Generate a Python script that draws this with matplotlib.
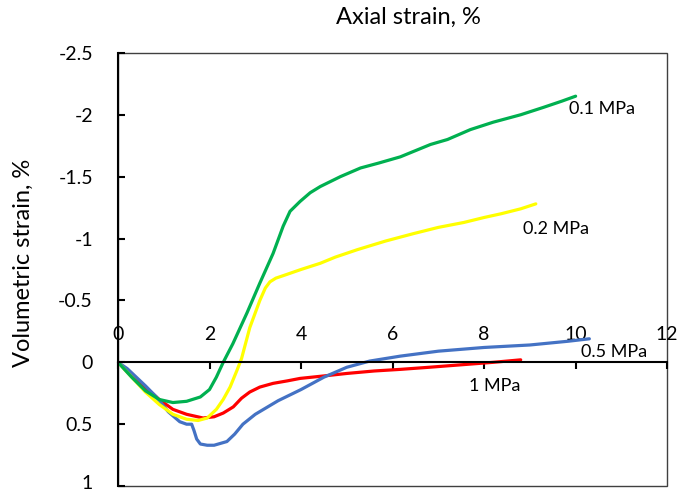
import matplotlib.pyplot as plt
from matplotlib.patches import Rectangle
from matplotlib.transforms import ScaledTranslation

plt.rcParams['font.family'] = ['Lato', 'DejaVu Sans']

# 0.1 MPa
x_01 = [0, 0.3, 0.6, 0.9, 1.2, 1.5, 1.8, 2.0, 2.15, 2.3, 2.51, 2.82, 3.1, 3.39, 3.61, 3.76,
        3.98, 4.2, 4.42, 4.86, 5.3, 5.7, 6.17, 6.5, 6.83, 7.2, 7.7, 8.2, 8.8, 9.3, 9.7, 10.0]
y_01 = [0, 0.12, 0.23, 0.3, 0.325, 0.315, 0.28, 0.22, 0.12, 0.0, -0.15, -0.4, -0.64, -0.88, -1.1, -1.22,
        -1.3, -1.37, -1.42, -1.5, -1.57, -1.61, -1.66, -1.71, -1.76, -1.8, -1.88, -1.94, -2.0, -2.06, -2.11, -2.15]
# 0.2 MPa
x_02 = [0, 0.3, 0.6, 0.9, 1.2, 1.5, 1.75, 1.95, 2.15, 2.3, 2.45, 2.6, 2.7, 2.88, 3.1, 3.22, 3.32, 3.45,
        3.61, 4.0, 4.42, 4.75, 5.23, 5.85, 6.46, 7.0, 7.56, 8.0, 8.37, 8.8, 9.13]
y_02 = [0, 0.12, 0.24, 0.34, 0.42, 0.46, 0.47, 0.45, 0.38, 0.3, 0.2, 0.065, -0.03, -0.28, -0.5, -0.6, -0.65, -0.68,
        -0.7, -0.75, -0.8, -0.85, -0.91, -0.98, -1.04, -1.09, -1.13, -1.17, -1.2, -1.24, -1.28]
# 0.5 MPa
x_05 = [0, 0.2, 0.4, 0.6, 0.84, 1.1, 1.35, 1.5, 1.61, 1.66, 1.72, 1.8, 1.95, 2.1, 2.38, 2.55, 2.73,
        3.0, 3.5, 4.0, 4.5, 5.0, 5.5, 6.17, 7.0, 8.0, 9.0, 9.83, 10.3]
y_05 = [0, 0.05, 0.12, 0.19, 0.28, 0.4, 0.48, 0.5, 0.5, 0.55, 0.62, 0.66, 0.67, 0.67, 0.64, 0.58, 0.5,
        0.42, 0.31, 0.22, 0.12, 0.04, -0.01, -0.05, -0.09, -0.12, -0.14, -0.17, -0.19]
# 1 MPa
x_1 = [0, 0.3, 0.6, 0.9, 1.2, 1.5, 1.86, 2.1, 2.3, 2.52, 2.7, 2.88, 3.1, 3.39, 3.7, 3.98,
       4.5, 5.0, 5.6, 6.17, 6.8, 7.5, 8.2, 8.8]
y_1 = [0, 0.1, 0.2, 0.3, 0.38, 0.42, 0.45, 0.44, 0.41, 0.36, 0.29, 0.24, 0.2, 0.17, 0.15, 0.13,
       0.11, 0.09, 0.07, 0.057, 0.04, 0.02, 0.0, -0.02]

fig = plt.figure(figsize=(6.78, 4.94), dpi=100)
ax = fig.add_axes([0.174, 0.016, 0.81, 0.877])

kw = dict(lw=2.3, solid_joinstyle='round', solid_capstyle='round')
ax.plot(x_1, y_1, color='#FF0000', **kw)
ax.plot(x_05, y_05, color='#4472C4', **kw)
ax.plot(x_02, y_02, color='#FFFF00', **kw)
ax.plot(x_01, y_01, color='#00B050', **kw)

ax.set_xlim(0, 12)
ax.set_ylim(1, -2.5)
ax.set_xticks(range(0, 13, 2))
ax.set_yticks([-2.5, -2, -1.5, -1, -0.5, 0, 0.5, 1])
ax.set_yticklabels(['-2.5', '-2', '-1.5', '-1', '-0.5', '0', '0.5', '1'])

# x axis crosses at y = 0, labels above it
ax.xaxis.tick_top()
ax.spines['top'].set_position(('data', 0))
ax.spines['top'].set_linewidth(1.5)
ax.spines['left'].set_linewidth(1.5)
for s in ['bottom', 'right']:
    ax.spines[s].set_visible(False)
ax.tick_params(axis='x', direction='in', length=5, width=1.5, labelsize=14, pad=14)
ax.tick_params(axis='y', direction='in', length=5, width=1.5, labelsize=14, pad=18)

# nudge the bottom "1" up a little so it stays inside the picture
lab = ax.get_yticklabels()[-1]
lab.set_transform(lab.get_transform() + ScaledTranslation(0, 3 / 72, fig.dpi_scale_trans))

# outer frame
ax.add_patch(Rectangle((0, 0), 1, 1, transform=ax.transAxes, fill=False,
                       edgecolor='#404040', lw=1, clip_on=False, zorder=0))

fs = 13
ax.text(9.86, -2.05, '0.1 MPa', fontsize=fs, va='center', ha='left')
ax.text(8.85, -1.08, '0.2 MPa', fontsize=fs, va='center', ha='left')
ax.text(10.12, -0.08, '0.5 MPa', fontsize=fs, va='center', ha='left')
ax.text(7.66, 0.19, '1 MPa', fontsize=fs, va='center', ha='left')

fig.text(0.602, 0.964, 'Axial strain, %', fontsize=17, ha='center', va='center')
fig.text(0.035, 0.468, 'Volumetric strain, %', fontsize=17, ha='center', va='center', rotation=90)

fig.savefig('out.png', dpi=100)
